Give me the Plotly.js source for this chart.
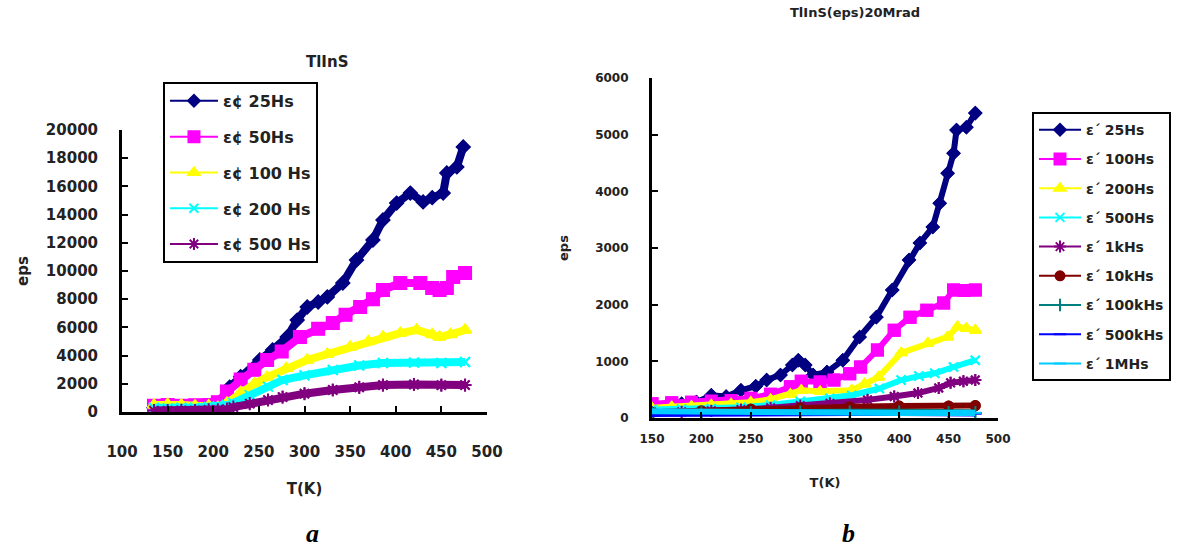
<!DOCTYPE html>
<html><head><meta charset="utf-8">
<script src="https://cdn.plot.ly/plotly-3.0.1.min.js"></script>
<style>html,body{margin:0;padding:0;background:#fff}#chart{width:1200px;height:550px}</style>
</head><body><div id="chart"></div>
<script>
// ---- Panel a: TlInS ----
const leftTitle = "TlInS";
const leftNames = ["ε¢ 25Hs", "ε¢ 50Hs", "ε¢ 100 Hs", "ε¢ 200 Hs", "ε¢ 500 Hs"];
const L25_T = [135,150,165,180,195,205,212,218,230,251,265,281,292,303,315,325,342,357,375,386,401,416,430,440,452,456,467,474];
const L25   = [300,350,400,380,420,450,600,1770,2500,3690,4400,5320,6520,7450,7800,8160,9150,10780,12200,13620,14820,15530,14900,15200,15530,16950,17380,18800];
const L50_T = [135,150,165,180,195,205,215,230,245,259,275,295,315,331,345,361,375,386,405,427,440,448,456,463,476];
const L50   = [450,500,450,480,500,700,1450,2300,3000,3690,4300,5320,5900,6310,6900,7450,8000,8650,9150,9150,8800,8650,8800,9570,9860];
const L100_T = [135,150,165,180,195,205,215,230,245,259,280,303,325,350,370,386,405,423,440,448,460,476];
const L100   = [500,550,500,450,450,350,640,1400,2000,2480,3100,3690,4100,4610,5000,5320,5600,5820,5500,5320,5500,5820];
const L200_T = [135,150,165,180,195,205,215,222,240,260,276,300,331,360,386,420,450,476];
const L200   = [300,250,300,300,350,400,500,640,1200,1800,2270,2600,2980,3300,3480,3500,3480,3550];
const L500_T = [135,150,165,180,195,205,215,222,240,260,276,300,331,360,386,420,450,476];
const L500   = [100,100,120,100,150,150,200,350,600,850,1060,1300,1560,1750,1910,1950,1900,1910];

// ---- Panel b: TlInS(eps)20Mrad ----
const rightTitle = "TlInS(eps)20Mrad";
const rightNames = ["ε΄ 25Hs","ε΄ 100Hs","ε΄ 200Hs","ε΄ 500Hs","ε΄ 1kHs","ε΄ 10kHs","ε΄ 100kHs","ε΄ 500kHs","ε΄ 1MHs"];
const R25_T = [150,165,180,195,210,225,240,255,266,280,292,298,305,313,327,343,360,377,393,410,421,434,441,449,455,458,468,477];
const R25   = [200,220,250,280,400,380,490,560,670,760,935,1020,935,760,810,1020,1430,1780,2260,2790,3090,3370,3790,4320,4670,5080,5130,5380];
const R100_T = [150,170,190,210,230,250,270,290,301,320,334,350,361,378,395,411,428,445,455,466,477];
const R100   = [250,270,280,300,310,350,420,550,650,640,670,780,900,1200,1550,1780,1900,2030,2260,2250,2260];
const R200_T = [150,170,190,210,230,250,270,290,301,320,352,365,379,402,429,449,459,468,477];
const R200   = [180,200,210,230,250,280,330,420,490,470,490,600,720,1150,1320,1430,1610,1580,1550];
const R500_T = [150,180,210,240,270,300,330,352,380,402,420,436,455,477];
const R500   = [150,160,170,190,230,290,350,400,520,670,740,790,900,1020];
const R1k_T = [150,180,210,240,270,300,330,368,395,419,440,452,465,477];
const R1k   = [100,110,130,150,180,220,260,320,380,440,530,620,650,670];
const R10k_T = [150,200,250,300,350,400,450,477];
const R10k   = [100,130,160,180,200,210,210,220];
const R100k_T = [150,200,250,300,350,400,450,477];
const R100k   = [90,100,100,110,110,110,100,100];
const R500k_T = [150,200,250,300,350,400,450,477];
const R500k   = [70,80,80,90,90,90,80,80];
const R1M_T = [150,200,250,300,350,400,450,477];
const R1M   = [120,110,100,100,90,90,90,90];

const leftSeries = [[L25_T,L25],[L50_T,L50],[L100_T,L100],[L200_T,L200],[L500_T,L500]];
const leftColors = ["#000080","#FF00FF","#FFFF00","#00FFFF","#800080"];
const leftSymbols = ["diamond","square","triangle-up","x-thin-open","asterisk-open"];
const leftSizes = [9,11,10,9,10];

const rightSeries = [[R25_T,R25],[R100_T,R100],[R200_T,R200],[R500_T,R500],[R1k_T,R1k],[R10k_T,R10k],[R100k_T,R100k],[R500k_T,R500k],[R1M_T,R1M]];
const rightColors = ["#000080","#FF00FF","#FFFF00","#00FFFF","#800080","#800000","#008080","#0000FF","#00CCFF"];
const rightSymbols = ["diamond","square","triangle-up","x-thin-open","asterisk-open","circle","line-ns-open","line-ew-open","line-ew-open"];
const rightSizes = [9,11,10,9,10,9,9,9,9];

const traces = [];
leftSeries.forEach((s,i)=>{
  traces.push({x:s[0],y:s[1],xaxis:'x',yaxis:'y',type:'scatter',mode:'lines+markers',name:leftNames[i],
    legend:'legend',legendgroup:'L'+i,line:{color:leftColors[i],width:2},
    marker:{symbol:leftSymbols[i],size:leftSizes[i],color:leftColors[i],line:{color:leftColors[i],width:2}}});
});
leftSeries.forEach((s,i)=>{
  traces.push({x:s[0],y:s[1],xaxis:'x',yaxis:'y',type:'scatter',mode:'lines+markers',showlegend:false,hoverinfo:'skip',
    line:{color:leftColors[i],width:8},
    marker:{symbol:leftSymbols[i],size:leftSizes[i]+1,color:leftColors[i],line:{color:leftColors[i],width:2}}});
});
rightSeries.forEach((s,i)=>{
  traces.push({x:s[0],y:s[1],xaxis:'x2',yaxis:'y2',type:'scatter',mode:'lines+markers',name:rightNames[i],
    legend:'legend2',legendgroup:'R'+i,line:{color:rightColors[i],width:2},
    marker:{symbol:rightSymbols[i],size:rightSizes[i],color:rightColors[i],line:{color:rightColors[i],width:2}}});
});
rightSeries.forEach((s,i)=>{
  traces.push({x:s[0],y:s[1],xaxis:'x2',yaxis:'y2',type:'scatter',mode:'lines+markers',showlegend:false,hoverinfo:'skip',
    line:{color:rightColors[i],width:6},
    marker:{symbol:rightSymbols[i],size:rightSizes[i],color:rightColors[i],line:{color:rightColors[i],width:2}}});
});

const DJ = 'DejaVu Sans, sans-serif';
const tickFontL = {family:DJ,size:15,color:'#222',weight:'bold'};
const tickFontR = {family:DJ,size:12,color:'#222',weight:'bold'};
const axBase = {showline:true,linecolor:'#000',linewidth:3,ticks:'inside',ticklen:6,tickwidth:2,tickcolor:'#000',
  showgrid:false,zeroline:false,fixedrange:true,tickformat:'d'};

const layout = {
  width:1200,height:550,margin:{l:0,r:0,t:0,b:0},paper_bgcolor:'#fff',plot_bgcolor:'rgba(0,0,0,0)',
  xaxis:Object.assign({},axBase,{domain:[0.1017,0.4058],range:[100,500],tick0:100,dtick:50,anchor:'y',
    tickfont:tickFontL,ticklabelstandoff:24,
    title:{text:'T(K)',font:{family:DJ,size:15,color:'#222',weight:'bold'},standoff:24}}),
  yaxis:Object.assign({},axBase,{domain:[0.2509,0.7636],range:[0,20000],tick0:0,dtick:2000,anchor:'x',
    tickfont:tickFontL,ticklabelstandoff:18,
    title:{text:'eps',font:{family:DJ,size:15,color:'#222',weight:'bold'},standoff:14}}),
  xaxis2:Object.assign({},axBase,{domain:[0.5433,0.8317],range:[150,500],tick0:150,dtick:50,anchor:'y2',
    tickfont:tickFontR,ticklabelstandoff:8,
    title:{text:'T(K)',font:{family:DJ,size:13,color:'#222',weight:'bold'},standoff:33}}),
  yaxis2:Object.assign({},axBase,{domain:[0.24,0.8582],range:[0,6000],tick0:0,dtick:1000,anchor:'x2',
    tickfont:tickFontR,ticklabelstandoff:18,
    title:{text:'eps',font:{family:DJ,size:13,color:'#222',weight:'bold'},standoff:24}}),
  legend:{x:0.1358,y:0.851,xanchor:'left',yanchor:'top',bgcolor:'#fff',bordercolor:'#000',borderwidth:2,itemwidth:48,
    font:{family:DJ,size:16,color:'#222',weight:'bold'},tracegroupgap:12,itemsizing:'trace'},
  legend2:{x:0.86,y:0.796,xanchor:'left',yanchor:'top',bgcolor:'#fff',bordercolor:'#000',borderwidth:2,itemwidth:42,
    font:{family:DJ,size:14,color:'#222',weight:'bold'},tracegroupgap:8,itemsizing:'trace'},
  annotations:[
    {text:leftTitle,x:327,y:62},
    {text:rightTitle,x:855,y:12},
    {text:'a',x:313,y:533},
    {text:'b',x:848,y:533}
  ].map((a,i)=>({text:a.text,x:a.x/1200,y:1-a.y/550,xref:'paper',yref:'paper',showarrow:false,xanchor:'center',yanchor:'middle',
     font: i==0 ? {family:DJ,size:15,color:'#222',weight:'bold'}
         : i==1 ? {family:DJ,size:13,color:'#222',weight:'bold'}
              : {family:'Liberation Serif, Times New Roman, serif',size:26,color:'#000',weight:'bold',style:'italic'}}))
};
Plotly.newPlot('chart',traces,layout,{displayModeBar:false,staticPlot:true});
</script></body></html>
